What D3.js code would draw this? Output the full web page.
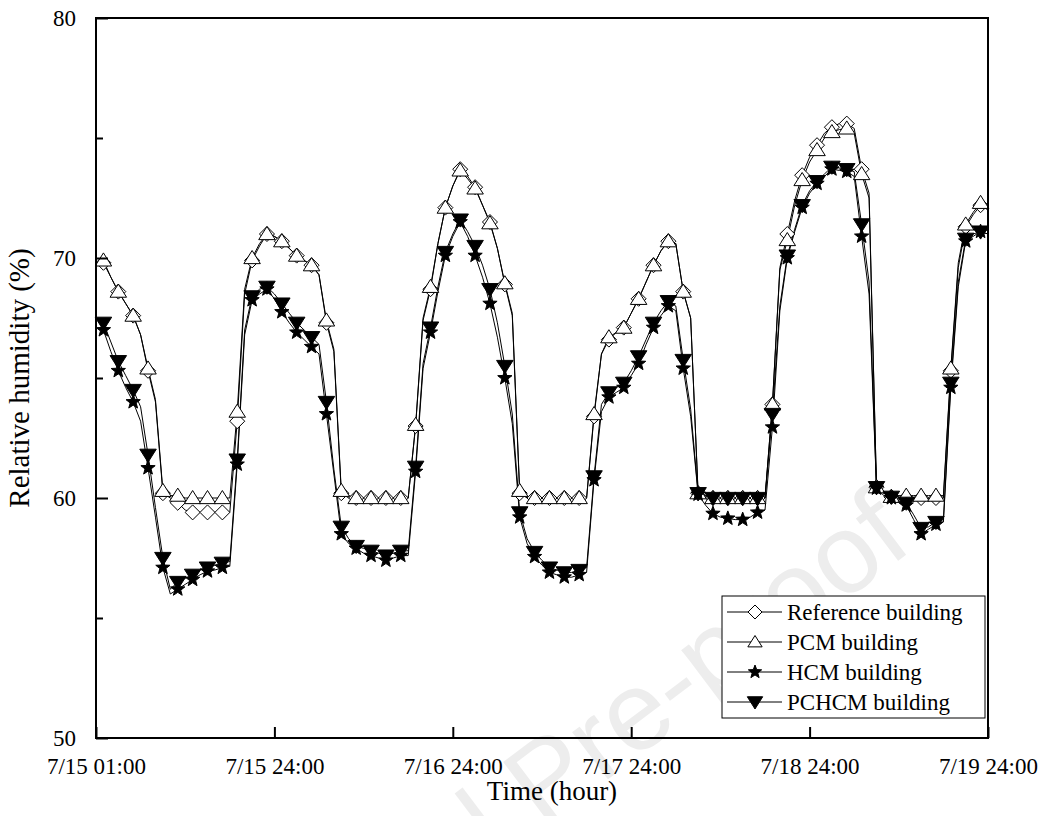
<!DOCTYPE html>
<html>
<head>
<meta charset="utf-8">
<script src="https://cdn.jsdelivr.net/npm/d3@7/dist/d3.min.js"></script>
<style>
  body { margin: 0; background: #fff; }
  svg text { font-family: "Liberation Serif", "Times New Roman", serif; fill: #000; }
</style>
</head>
<body>
<svg id="chart" width="1049" height="816"></svg>
<script>
// hourly data, hour 1 .. 120 (markers every 2nd hour)
var hours = d3.range(1, 121);

var refData = [
  69.8,69.2,68.6,68.1,67.6,66.8,65.3,64.0,60.2,60.0,59.8,59.5,59.4,59.4,59.4,59.4,59.4,59.4,63.2,68.5,69.9,70.5,71.0,70.9,
  70.7,70.4,70.1,69.9,69.7,69.3,67.3,66.1,60.2,60.0,60.0,60.0,60.0,60.0,60.0,60.0,60.0,60.0,63.0,67.4,68.7,70.6,72.1,73.0,
  73.7,73.4,72.95,72.2,71.5,70.4,68.9,67.6,60.2,60.0,60.0,60.0,60.0,60.0,60.0,60.0,60.0,60.0,63.4,66.0,66.6,66.9,67.1,67.7,
  68.3,69.0,69.7,70.3,70.7,70.6,68.6,67.5,60.2,60.1,60.0,60.0,60.0,60.0,60.0,60.0,60.0,60.0,63.9,69.6,71.0,72.4,73.45,74.2,
  74.7,75.2,75.45,75.6,75.6,75.4,73.7,72.7,60.45,60.2,60.05,60.0,60.0,60.0,60.0,60.0,60.0,60.0,65.3,69.6,71.3,71.8,72.2,72.0
];
var pcmData = [
  69.9,69.2,68.6,68.1,67.6,66.8,65.4,64.1,60.3,60.1,60.1,60.0,60.0,60.0,60.0,60.0,60.0,60.0,63.6,68.7,70.0,70.6,71.0,70.9,
  70.7,70.4,70.1,69.9,69.7,69.3,67.4,66.2,60.3,60.1,60.0,60.0,60.0,60.0,60.0,60.0,60.0,60.0,63.05,67.5,68.8,70.6,72.1,73.0,
  73.65,73.3,72.9,72.2,71.45,70.4,68.95,67.7,60.3,60.0,60.0,60.0,60.0,60.0,60.0,60.0,60.0,60.0,63.5,66.0,66.7,66.9,67.1,67.7,
  68.3,69.0,69.7,70.3,70.7,70.6,68.6,67.5,60.2,60.1,60.0,60.0,60.0,60.0,60.0,60.0,60.0,60.0,63.9,69.5,70.75,72.2,73.25,74.0,
  74.5,75.0,75.25,75.35,75.4,75.2,73.5,72.5,60.45,60.2,60.05,60.1,60.1,60.1,60.1,60.1,60.1,60.1,65.4,69.8,71.4,71.9,72.3,72.1
];
var hcmData = [
  67.0,66.1,65.3,64.6,64.0,63.2,61.25,59.2,57.1,56.0,56.2,56.4,56.6,56.8,56.95,57.0,57.1,57.15,61.4,66.8,68.25,68.5,68.7,68.3,
  67.75,67.3,66.9,66.6,66.3,66.0,63.5,61.0,58.5,58.1,57.9,57.7,57.6,57.5,57.4,57.5,57.6,57.6,61.1,65.4,66.9,68.6,70.1,70.9,
  71.5,70.9,70.1,69.2,68.1,66.7,65.0,63.1,59.2,58.1,57.55,57.2,56.9,56.8,56.7,56.7,56.8,56.9,60.75,63.6,64.2,64.4,64.6,65.1,
  65.6,66.4,67.1,67.6,68.0,67.8,65.4,63.4,60.15,59.7,59.35,59.2,59.15,59.1,59.1,59.2,59.4,59.5,62.95,67.8,70.0,71.1,72.1,72.7,
  73.1,73.4,73.7,73.65,73.6,73.4,70.9,68.5,60.4,60.1,60.0,59.85,59.7,59.1,58.5,58.7,58.9,59.0,64.6,68.8,70.7,70.9,71.1,71.0
];
var pchcmData = [
  67.3,66.5,65.7,65.1,64.5,63.8,61.8,59.6,57.5,56.2,56.5,56.65,56.8,57.0,57.1,57.2,57.3,57.35,61.6,67.0,68.4,68.7,68.8,68.5,
  68.1,67.7,67.3,67.0,66.7,66.4,64.0,61.2,58.8,58.3,58.0,57.9,57.8,57.7,57.6,57.7,57.8,57.8,61.3,65.6,67.1,68.8,70.25,71.0,
  71.6,71.1,70.5,69.7,68.7,67.3,65.5,63.5,59.4,58.3,57.75,57.4,57.1,57.0,56.9,56.9,57.0,57.1,60.9,63.9,64.4,64.6,64.8,65.3,
  65.9,66.6,67.3,67.8,68.2,68.0,65.75,63.7,60.2,60.05,60.0,60.0,60.0,60.0,60.0,60.0,60.0,60.0,63.5,68.0,70.1,71.2,72.2,72.8,
  73.2,73.5,73.8,73.75,73.7,73.6,71.4,69.0,60.45,60.2,60.05,59.9,59.8,59.3,58.75,58.8,59.0,59.1,64.8,69.0,70.8,71.0,71.1,71.0
];

var seriesNames = ["Reference building", "PCM building", "HCM building", "PCHCM building"];
var xTickValues = [0, 24, 48, 72, 96, 120];
var xTickLabels = ["7/15 01:00", "7/15 24:00", "7/16 24:00", "7/17 24:00", "7/18 24:00", "7/19 24:00"];
var yTickValues = [50, 60, 70, 80];
var yMinorTicks = [55, 65, 75];

var margin = {top: 18, right: 61, bottom: 78, left: 96};
var width = 1049 - margin.left - margin.right;
var height = 816 - margin.top - margin.bottom;

var svg = d3.select("#chart");

// faint watermark behind the plot
svg.append("text")
   .attr("transform", "translate(915,548) rotate(-37)")
   .attr("text-anchor", "end")
   .style("font-family", "'Liberation Sans', Arial, sans-serif")
   .style("font-size", "112px")
   .style("fill", "#ededed")
   .text("Journal Pre-proof");

var g = svg.append("g")
           .attr("transform", "translate(" + margin.left + "," + margin.top + ")");

var xScale = d3.scaleLinear().domain([0, 120]).range([0, width]);
var yScale = d3.scaleLinear().domain([50, 80]).range([height, 0]);

// symbols
function diamond(s) { return "M0," + (-s) + "L" + s + ",0L0," + s + "L" + (-s) + ",0Z"; }
function triUp(s) { return "M0," + (-s) + "L" + (s * 1.1) + "," + (s * 0.75) + "L" + (-s * 1.1) + "," + (s * 0.75) + "Z"; }
function triDown(s) { return "M0," + s + "L" + (s * 1.1) + "," + (-s * 0.75) + "L" + (-s * 1.1) + "," + (-s * 0.75) + "Z"; }
function star(r) {
  var pts = [];
  for (var i = 0; i < 10; i++) {
    var rr = i % 2 === 0 ? r : r * 0.42;
    var a = -Math.PI / 2 + i * Math.PI / 5;
    pts.push((rr * Math.cos(a)).toFixed(2) + "," + (rr * Math.sin(a)).toFixed(2));
  }
  return "M" + pts.join("L") + "Z";
}

var series = [
  {name: seriesNames[0], values: refData, shape: diamond(7.5), fill: "#fff"},
  {name: seriesNames[1], values: pcmData, shape: triUp(7.5), fill: "#fff"},
  {name: seriesNames[3], values: pchcmData, shape: triDown(7.5), fill: "#000"},
  {name: seriesNames[2], values: hcmData, shape: star(7.5), fill: "#000"}
];

var line = d3.line()
             .x(function(d, i) { return xScale(hours[i]); })
             .y(function(d) { return yScale(d); });

series.forEach(function(s) {
  g.append("path")
   .attr("d", line(s.values))
   .attr("fill", "none")
   .attr("stroke", "#000")
   .attr("stroke-width", 1);
});

series.forEach(function(s) {
  g.selectAll(null)
   .data(s.values.filter(function(d, i) { return i % 2 === 0; }))
   .enter().append("path")
   .attr("d", s.shape)
   .attr("transform", function(d, i) {
     return "translate(" + xScale(hours[i * 2]) + "," + yScale(d) + ")";
   })
   .attr("fill", s.fill)
   .attr("stroke", "#000")
   .attr("stroke-width", 1);
});

// frame
g.append("rect")
 .attr("width", width).attr("height", height)
 .attr("fill", "none").attr("stroke", "#000").attr("stroke-width", 2);

// axes with inward ticks
var xAxis = d3.axisBottom(xScale).tickValues(xTickValues)
              .tickSizeInner(-11).tickSizeOuter(0).tickPadding(20)
              .tickFormat(function(d, i) { return xTickLabels[i]; });
var xg = g.append("g").attr("transform", "translate(0," + height + ")").call(xAxis);

var yAxis = d3.axisLeft(yScale).tickValues(yTickValues)
              .tickSizeInner(-12).tickSizeOuter(0).tickPadding(20);
var yg = g.append("g").call(yAxis);

var yMinor = d3.axisLeft(yScale).tickValues(yMinorTicks)
               .tickSizeInner(-7).tickSizeOuter(0).tickFormat("");
var ymg = g.append("g").call(yMinor);

[xg, yg, ymg].forEach(function(a) {
  a.select(".domain").remove();
  a.selectAll("line").attr("stroke-width", 2);
  a.selectAll("text").style("font-size", "23px").style("font-family", "'Liberation Serif', serif");
});

// axis titles
g.append("text")
 .attr("x", width / 2 + 10).attr("y", height + 62)
 .attr("text-anchor", "middle")
 .style("font-size", "27px")
 .text("Time (hour)");

g.append("text")
 .attr("transform", "translate(-67," + (height / 2) + ") rotate(-90)")
 .attr("text-anchor", "middle")
 .style("font-size", "29px")
 .text("Relative humidity (%)");

// legend
var legend = svg.append("g").attr("transform", "translate(722,596)");
legend.append("rect")
      .attr("width", 263).attr("height", 122)
      .attr("fill", "#fff").attr("stroke", "#000").attr("stroke-width", 1);

var legendOrder = [
  {name: seriesNames[0], shape: diamond(7), fill: "#fff"},
  {name: seriesNames[1], shape: triUp(6.5), fill: "#fff"},
  {name: seriesNames[2], shape: star(7), fill: "#000"},
  {name: seriesNames[3], shape: triDown(7), fill: "#000"}
];

var rows = legend.selectAll(".row")
                 .data(legendOrder)
                 .enter().append("g")
                 .attr("transform", function(d, i) { return "translate(0," + (16 + i * 30) + ")"; });

rows.append("line")
    .attr("x1", 5).attr("x2", 60).attr("y1", 0).attr("y2", 0)
    .attr("stroke", "#000").attr("stroke-width", 1);
rows.append("path")
    .attr("d", function(d) { return d.shape; })
    .attr("transform", "translate(33,0)")
    .attr("fill", function(d) { return d.fill; })
    .attr("stroke", "#000");
rows.append("text")
    .attr("x", 65).attr("y", 8)
    .style("font-size", "23px")
    .text(function(d) { return d.name; });
</script>
</body>
</html>
